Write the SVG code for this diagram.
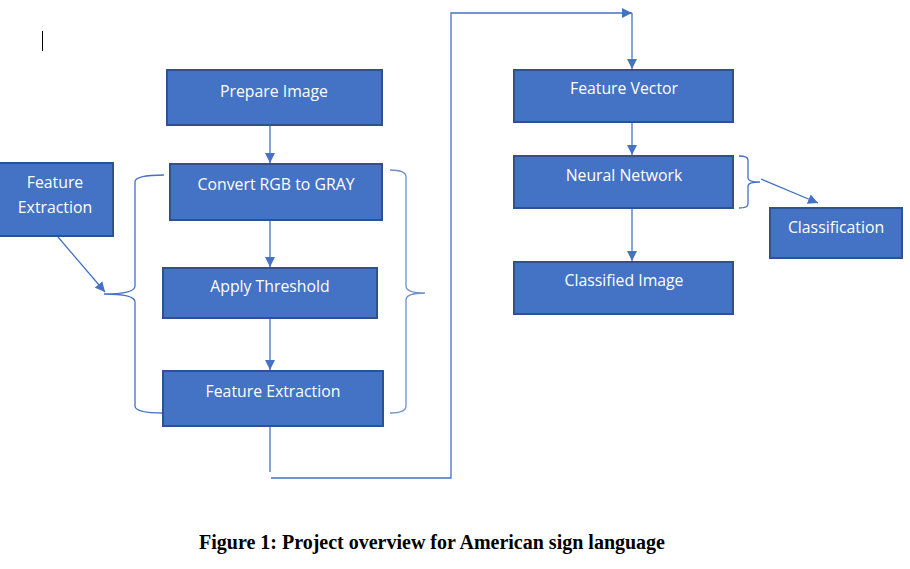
<svg xmlns="http://www.w3.org/2000/svg" width="910" height="569" viewBox="0 0 910 569">
<style>
.box{fill:#4472C4;stroke:#2F528F;stroke-width:2}
.t{font-family:"Open Sans","Liberation Sans",sans-serif;font-size:15.8px;fill:#ffffff;text-anchor:middle}
.c{fill:none;stroke:#4472C4;stroke-width:1.3}
.br{fill:none;stroke:#6E8FCB;stroke-width:1.3}
.cap{font-family:"Liberation Serif",serif;font-weight:bold;font-size:20px;fill:#000;text-anchor:middle}
</style>
<defs>
<marker id="ah" viewBox="0 0 10 10" refX="10" refY="5" markerWidth="10" markerHeight="10" markerUnits="userSpaceOnUse" orient="auto">
<path d="M0,0 L10,5 L0,10 z" fill="#4472C4"/>
</marker>
</defs>
<rect width="910" height="569" fill="#ffffff"/>
<line x1="42.5" y1="31" x2="42.5" y2="51" stroke="#000" stroke-width="1"/>
<g id="connectors">
<line class="c" x1="270" y1="125" x2="270" y2="163" marker-end="url(#ah)"/>
<line class="c" x1="270" y1="220" x2="270" y2="267" marker-end="url(#ah)"/>
<line class="c" x1="270" y1="318" x2="270" y2="370" marker-end="url(#ah)"/>
<line class="c" x1="270" y1="426" x2="270" y2="472"/>
<polyline class="c" points="271,478 451,478 451,13 632,13" marker-end="url(#ah)"/>
<line class="c" x1="632" y1="13" x2="632" y2="69" marker-end="url(#ah)"/>
<line class="c" x1="632" y1="122" x2="632" y2="155" marker-end="url(#ah)"/>
<line class="c" x1="632" y1="208" x2="632" y2="261" marker-end="url(#ah)"/>
<line class="c" x1="58" y1="237" x2="105" y2="292" marker-end="url(#ah)"/>
<line class="c" x1="761" y1="179" x2="818" y2="203" marker-end="url(#ah)"/>
<path class="c" d="M164,175 Q135,175 135,182 L135,286 Q135,294 104,294 Q135,294 135,302 L135,406 Q135,413 163,413"/>
<path class="br" d="M390,170 Q406,170 406,177 L406,286 Q406,293 425,293 Q406,293 406,300 L406,406 Q406,413 390,413"/>
<path class="c" d="M739,156 Q748,156 748,160 L748,178 Q748,182 760,182 Q748,182 748,186 L748,204 Q748,208 739,208"/>
</g>
<g id="prepare"><rect class="box" x="167" y="70" width="215" height="55"/><text class="t" x="274" y="97">Prepare Image</text></g>
<g id="convert"><rect class="box" x="170" y="164" width="212" height="56"/><text class="t" x="276" y="190">Convert RGB to GRAY</text></g>
<g id="threshold"><rect class="box" x="163" y="268" width="214" height="50"/><text class="t" x="270" y="292">Apply Threshold</text></g>
<g id="featext"><rect class="box" x="163" y="371" width="220" height="55"/><text class="t" x="273" y="397">Feature Extraction</text></g>
<g id="featext-left"><rect class="box" x="-2" y="163" width="115" height="73"/><text class="t" x="55" y="188">Feature</text><text class="t" x="55" y="213">Extraction</text></g>
<g id="featvec"><rect class="box" x="514" y="70" width="219" height="52"/><text class="t" x="624" y="94">Feature Vector</text></g>
<g id="neural"><rect class="box" x="514" y="156" width="219" height="52"/><text class="t" x="624" y="181">Neural Network</text></g>
<g id="classified"><rect class="box" x="514" y="262" width="219" height="52"/><text class="t" x="624" y="286">Classified Image</text></g>
<g id="classification"><rect class="box" x="770" y="208" width="132" height="50"/><text class="t" x="836" y="233">Classification</text></g>
<text class="cap" x="432" y="549">Figure 1: Project overview for American sign language</text>
</svg>
